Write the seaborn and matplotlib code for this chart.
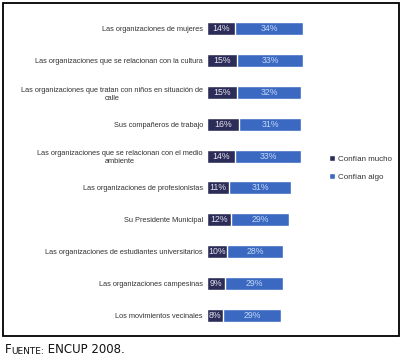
import matplotlib.pyplot as plt
import seaborn as sns
import pandas as pd
from matplotlib.patches import Rectangle, Patch

categories = [
    "Las organizaciones de mujeres",
    "Las organizaciones que se relacionan con la cultura",
    "Las organizaciones que tratan con niños en situación de\ncalle",
    "Sus compañeros de trabajo",
    "Las organizaciones que se relacionan con el medio\nambiente",
    "Las organizaciones de profesionistas",
    "Su Presidente Municipal",
    "Las organizaciones de estudiantes universitarios",
    "Las organizaciones campesinas",
    "Los movimientos vecinales",
]
mucho = [14, 15, 15, 16, 14, 11, 12, 10, 9, 8]
algo = [34, 33, 32, 31, 33, 31, 29, 28, 29, 29]
series_names = ["Confían mucho", "Confían algo"]

dark = "#2c2c58"
blue = "#3b69c2"

sns.set_style("white")
plt.rcParams["font.family"] = ["Liberation Sans", "DejaVu Sans"]

data = pd.DataFrame({"cat": categories, "mucho": mucho, "algo": algo})
data["total"] = data["mucho"] + data["algo"]

fig = plt.figure(figsize=(4.04, 3.58), dpi=100)
ax = fig.add_axes([207 / 404, 1 - 331 / 358, 112 / 404, 318 / 358])

# stacked: total first (blue), dark part drawn on top
sns.barplot(data=data, y="cat", x="total", color=blue, width=0.41,
            saturation=1, ax=ax, orient="h")
sns.barplot(data=data, y="cat", x="mucho", color=dark, width=0.41,
            saturation=1, ax=ax, orient="h")

for i, (m, a) in enumerate(zip(mucho, algo)):
    ax.text(m / 2, i, "{:d}%".format(m), ha="center", va="center",
            fontsize=6.3, color="#e4e4f2")
    ax.text(m + a / 2, i, "{:d}%".format(a), ha="center", va="center",
            fontsize=6.3, color="#c0d8f6")

ax.set_xlim(0, 56)
ax.set_xlabel("")
ax.set_ylabel("")
ax.set_xticks([])
sns.despine(ax=ax, left=True, bottom=True)
ax.tick_params(axis="y", length=0, pad=3, labelsize=5.3, labelcolor="#333333")
for t in ax.get_yticklabels():
    t.set_multialignment("center")

handles = [Patch(facecolor=dark), Patch(facecolor=blue)]
fig.legend(handles, series_names, loc="center left",
           bbox_to_anchor=(322 / 404, 1 - 168 / 358), frameon=False,
           fontsize=5.8, handlelength=0.75, handleheight=0.75,
           handletextpad=0.3, labelspacing=1.2, labelcolor="#333333")

# frame around the chart
fig.add_artist(Rectangle((3 / 404, 1 - 336 / 358), 396 / 404, 333 / 358,
                         transform=fig.transFigure, fill=False,
                         edgecolor="black", linewidth=1.3))

# source note in small caps
t1 = fig.text(5 / 404, 1 - 353 / 358, "F", fontsize=8.5,
              family="DejaVu Sans", color="#111111")
t2 = ax.annotate("UENTE:", xy=(1, 0), xycoords=t1, fontsize=6.5,
                 family="DejaVu Sans", color="#111111", va="bottom",
                 annotation_clip=False)
ax.annotate(" ENCUP 2008.", xy=(1, 0), xycoords=t2, fontsize=8.5,
            family="DejaVu Sans", color="#111111", va="bottom",
            annotation_clip=False)

plt.savefig("out.png", dpi=100)
